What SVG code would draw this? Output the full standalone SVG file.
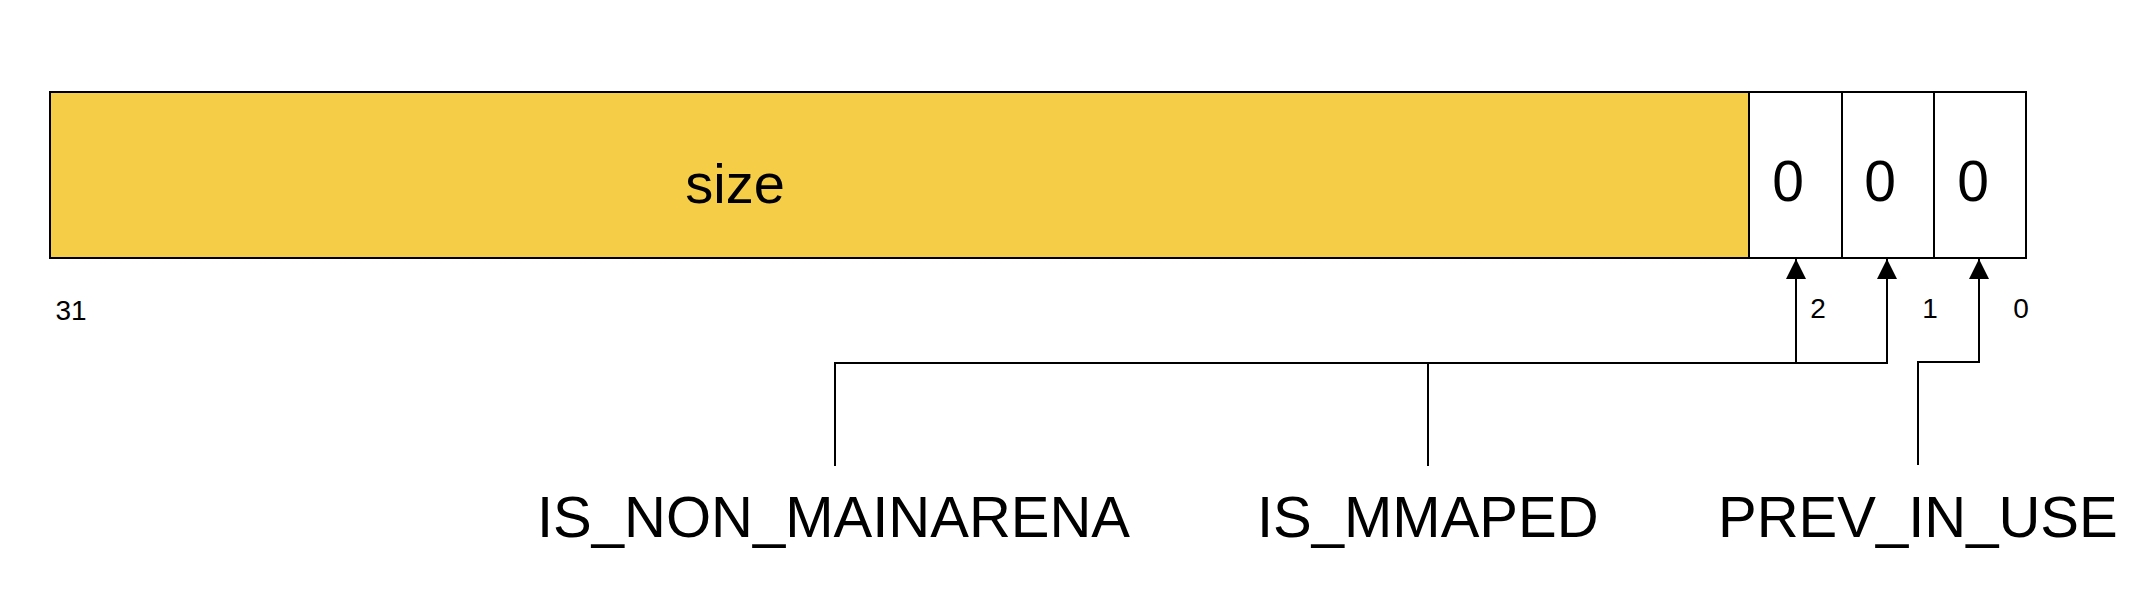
<svg xmlns="http://www.w3.org/2000/svg" width="2146" height="598" viewBox="0 0 2146 598">
<defs>
<style>
text{font-family:"Liberation Sans",Arial,sans-serif;fill:#000}
.box{stroke:#000;stroke-width:2}
.big{font-size:57px;text-anchor:middle}
.lbl{font-size:58px}
.bit{font-size:28px;text-anchor:middle}
.conn{fill:none;stroke:#000;stroke-width:2}
</style>
<marker id="arr" viewBox="0 0 20 20" refX="20" refY="10" markerWidth="20" markerHeight="20" markerUnits="userSpaceOnUse" orient="auto">
<path d="M0,0 L20,10 L0,20 Z" fill="#000"/>
</marker>
</defs>
<rect width="2146" height="598" fill="#fff"/>
<g id="size-field">
<rect class="box" x="50" y="92" width="1699" height="166" fill="#F5CD47"/>
<text class="big" x="735" y="203" style="font-size:56px">size</text>
</g>
<g id="bit2">
<rect class="box" x="1749" y="92" width="93" height="166" fill="#fff"/>
<text class="big" x="1788" y="201">0</text>
</g>
<g id="bit1">
<rect class="box" x="1842" y="92" width="92" height="166" fill="#fff"/>
<text class="big" x="1880" y="201">0</text>
</g>
<g id="bit0">
<rect class="box" x="1934" y="92" width="92" height="166" fill="#fff"/>
<text class="big" x="1973" y="201">0</text>
</g>
<g id="bit-numbers">
<text class="bit" x="71" y="320">31</text>
<text class="bit" x="1818" y="318">2</text>
<text class="bit" x="1930" y="318">1</text>
<text class="bit" x="2021" y="318">0</text>
</g>
<g id="IS_NON_MAINARENA">
<text class="lbl" x="537" y="537">IS_NON_MAINARENA</text>
</g>
<g id="IS_MMAPED">
<text class="lbl" x="1257" y="537">IS_MMAPED</text>
</g>
<g id="PREV_IN_USE">
<text class="lbl" x="1718" y="537">PREV_IN_USE</text>
</g>
<g id="connectors">
<path class="conn" d="M835,466 V363 H1796 V259" marker-end="url(#arr)"/>
<path class="conn" d="M1428,466 V363 H1887 V259" marker-end="url(#arr)"/>
<path class="conn" d="M1918,465 V362 H1979 V259" marker-end="url(#arr)"/>
</g>
</svg>
